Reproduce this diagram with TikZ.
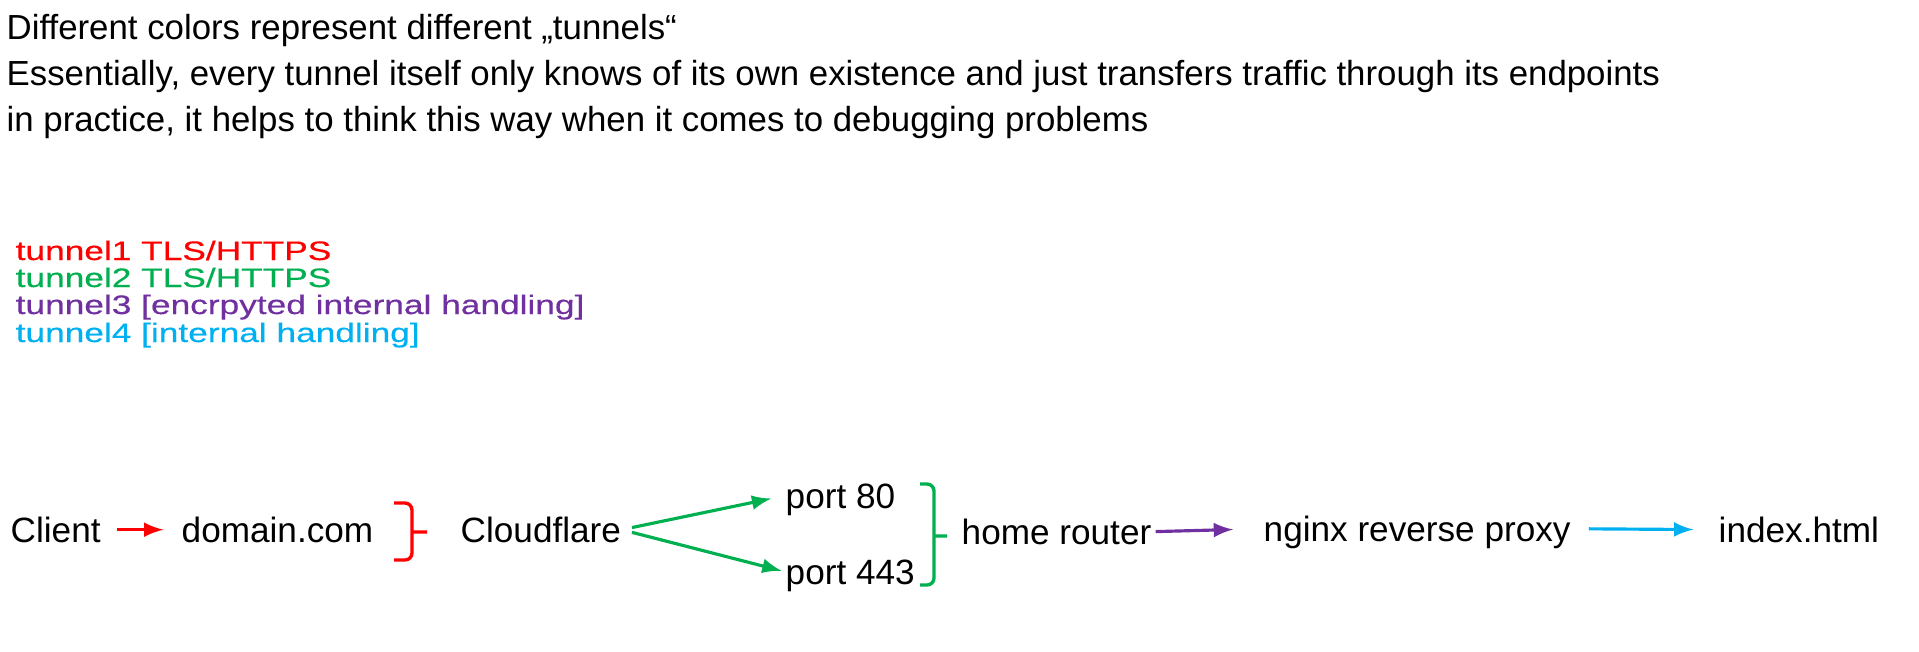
\documentclass[tikz,border=0pt]{standalone}
\usepackage{fontspec}
\setmainfont{Liberation Sans}
\newfontfamily\keyfont[FakeStretch=1.32,FakeBold=0.4]{Liberation Sans}
\usetikzlibrary{arrows,positioning}

\definecolor{tunA}{HTML}{FF0000}
\definecolor{tunB}{HTML}{00B050}
\definecolor{tunC}{HTML}{7030A0}
\definecolor{tunD}{HTML}{00B0F0}

\begin{document}
\begin{tikzpicture}[x=0.01cm,y=-0.01cm,
    note/.style={anchor=base west,inner sep=0pt,font=\fontsize{9.9}{11}\selectfont},
    key/.style={anchor=base west,inner sep=0pt,font=\keyfont\fontsize{7.6}{8}\selectfont},
    hop/.style={anchor=base west,inner sep=0pt,text height=7pt,text depth=0pt,font=\fontsize{10}{12}\selectfont},
    link/.style={-latex,line width=0.9pt},
    brace/.style={line width=0.95pt,rounded corners=2pt}]
    \useasboundingbox (0,0) rectangle (1919,651);

    \node[note] (l1) at (6,39) {Different colors represent different „tunnels“};
    \node[note] (l2) at (6,85) {Essentially, every tunnel itself only knows of its own existence and just transfers traffic through its endpoints};
    \node[note] (l3) at (6,131) {in practice, it helps to think this way when it comes to debugging problems};

    \node[key,text=tunA] (k1) at (15,260) {tunnel1 TLS/HTTPS};
    \node[key,text=tunB] (k2) at (15,287) {tunnel2 TLS/HTTPS};
    \node[key,text=tunC] (k3) at (15,314) {tunnel3 [encrpyted internal handling]};
    \node[key,text=tunD] (k4) at (15,342) {tunnel4 [internal handling]};

    \node[hop] (client) at (10,542) {Client};
    \node[hop] (domain) at (181,542) {domain.com};
    \node[hop] (cloud) at (460,542) {Cloudflare};
    \node[hop] (p80) at (785,508) {port 80};
    \node[hop] (p443) at (785,584) {port 443};
    \node[hop] (router) at (961,544) {home router};
    \node[hop] (nginx) at (1263,541) {nginx reverse proxy};
    \node[hop] (index) at (1718,542) {index.html};

    \draw[link,tunA,shorten <=4.5pt,shorten >=5pt] (client.east) -- (domain.west);
    \draw[link,tunB,shorten <=3pt,shorten >=4pt] (cloud.east) -- (p80.west);
    \draw[link,tunB,shorten <=3pt,shorten >=1pt] (cloud.east) -- (p443.west);
    \draw[link,tunC,shorten <=1pt,shorten >=8.5pt] (router.east) -- (nginx.west);
    \draw[link,tunD,shorten <=5pt,shorten >=7pt] (nginx.east) -- (index.west);

    % braces
    \draw[brace,tunA] (394,503) -| (412,532) |- (394,560) (412,532) -- (427,532);
    \draw[brace,tunB] (920,484) -| (934,536) |- (920,585) (934,536) -- (947,536);
\end{tikzpicture}
\end{document}
